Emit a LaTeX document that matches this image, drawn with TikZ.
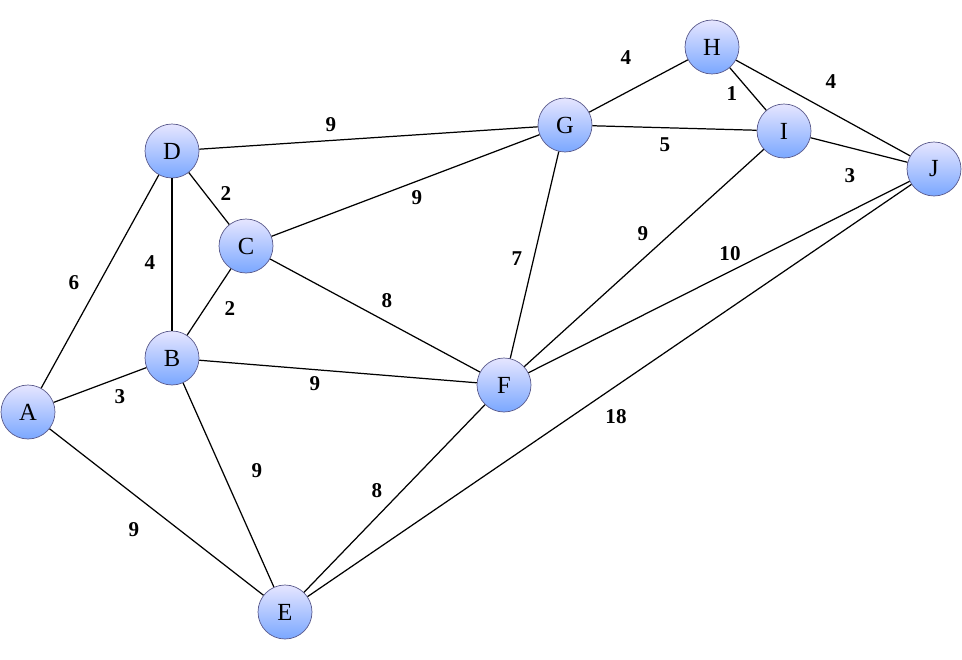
\documentclass[tikz,border=0pt]{standalone}
\usepackage{fontspec}
\setmainfont{Liberation Serif}
\begin{document}
\begin{tikzpicture}[x=0.02cm,y=-0.02cm,
  vert/.style={circle,draw=black!35!blue!30!gray,line width=0.4pt,minimum size=1.08cm,inner sep=0pt,
    top color=blue!10,bottom color=blue!45!cyan!40!white!80!blue,font=\fontsize{14}{14}\selectfont},
  wlab/.style={font=\fontsize{12}{12}\selectfont\bfseries},
  edge/.style={line width=0.7pt}]
\useasboundingbox (0,0) rectangle (962,659);
\foreach \n/\x/\y in {A/28/412,B/172/358,C/246/246,D/172/151,E/285/612,F/504/385,G/565/125,H/712/47,I/784/131,J/934/169}
  \node[vert] (\n) at (\x,\y) {\n};
\begin{scope}[on background layer/.try]
\end{scope}
\foreach \a/\b in {A/D,A/B,A/E,D/B,D/C,D/G,C/B,C/G,C/F,B/F,B/E,E/F,E/J,F/G,F/I,F/J,G/H,G/I,H/I,H/J,I/J}
  \draw[edge] (\a) -- (\b);
\foreach \t/\x/\y [count=\i] in {6/74/283,3/120/397,9/134/530,4/150/263,2/226/194,9/331/125,2/230/309,9/417/198,8/387/301,9/315/384,9/257/471,8/377/491,18/616/417,7/517/259,9/643/234,10/730/254,4/626/58,5/665/145,1/732/94,4/831/82,3/850/176}
  \node[wlab] (l\i) at (\x,\y) {\t};
\end{tikzpicture}
\end{document}
